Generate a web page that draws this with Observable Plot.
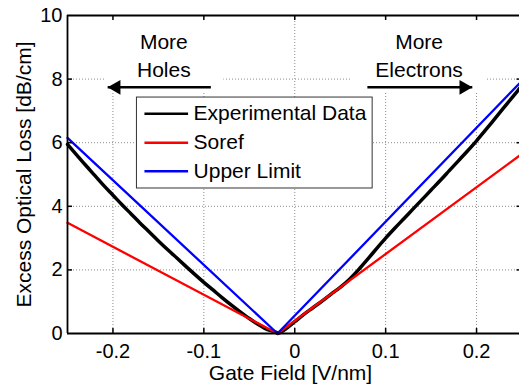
<!DOCTYPE html>
<html>
<head>
<meta charset="utf-8">
<script src="https://cdn.jsdelivr.net/npm/d3@7"></script>
<script src="https://cdn.jsdelivr.net/npm/@observablehq/plot@0.6"></script>
<style>
  html, body { margin: 0; padding: 0; background: #fff; overflow: hidden; }
  #chart { width: 519px; height: 385px; }
</style>
</head>
<body>
<div id="chart"></div>
<script>
// ---- data ----
const expGate = [-0.25,-0.24,-0.23,-0.22,-0.21,-0.20,-0.19,-0.18,-0.17,-0.16,-0.15,-0.14,-0.13,-0.12,-0.11,-0.10,-0.09,-0.08,-0.07,-0.06,-0.05,-0.04,-0.03,-0.02,-0.019,-0.01,0.00,0.01,0.02,0.03,0.04,0.05,0.06,0.07,0.08,0.09,0.10,0.11,0.12,0.13,0.14,0.15,0.16,0.17,0.18,0.19,0.20,0.21,0.22,0.23,0.24,0.25];
const expLoss = [5.95,5.62,5.29,4.97,4.65,4.35,4.05,3.76,3.47,3.19,2.91,2.64,2.38,2.12,1.86,1.61,1.37,1.13,0.90,0.68,0.47,0.28,0.12,0.03,0.00,0.14,0.37,0.60,0.81,1.02,1.24,1.45,1.70,2.00,2.33,2.67,3.00,3.31,3.61,3.91,4.21,4.51,4.81,5.12,5.43,5.74,6.06,6.40,6.75,7.10,7.45,7.80];
const sorefGate = [-0.25, -0.019, 0.25];
const sorefLoss = [3.48, 0, 5.65];
const upperGate = [-0.25, -0.019, 0.25];
const upperLoss = [6.15, 0, 7.95];

const seriesNames = ["Experimental Data", "Soref", "Upper Limit"];
const seriesColors = ["#000000", "#ff0000", "#0000ff"];

const xTicks = [-0.2, -0.1, 0, 0.1, 0.2];
const xTickLabels = ["-0.2", "-0.1", "0", "0.1", "0.2"];
const yTicks = [0, 2, 4, 6, 8, 10];
const yTickLabels = ["0", "2", "4", "6", "8", "10"];

const xLabel = "Gate Field [V/nm]";
const yLabel = "Excess Optical Loss [dB/cm]";
const annotations = ["More\nHoles", "More\nElectrons"];

// ---- tables built from the arrays ----
const exp = expGate.map((g, i) => ({g, v: expLoss[i]}));
const soref = sorefGate.map((g, i) => ({g, v: sorefLoss[i]}));
const upper = upperGate.map((g, i) => ({g, v: upperLoss[i]}));

// layout (data units)
const legendBox = {x1: -0.1736, x2: 0.0857, y1: 4.56, y2: 7.42};
const legendRowsY = [6.91, 6.0, 5.10];
const legendLineX = [-0.1648, -0.1168];
const legendTextX = -0.1113;
const legendItems = seriesNames.map((name, i) => ({name, color: seriesColors[i], y: legendRowsY[i]}));

const maskBoxes = [
  {x1: -0.2077, x2: -0.078, y1: 7.55, y2: 10},
  {x1: 0.0615, x2: 0.21, y1: 7.55, y2: 10}
];
const annot = [
  {text: annotations[0], x: -0.144, y: 8.08},
  {text: annotations[1], x: 0.1368, y: 8.08}
];
const arrowLeft = [{x1: -0.0923, x2: -0.2058, y: 7.74}];
const arrowRight = [{x1: 0.0799, x2: 0.1953, y: 7.74}];

const font = "'Liberation Sans', Arial, Helvetica, sans-serif";
const grid = {stroke: "#8c8c8c", strokeDasharray: "1,2", strokeWidth: 1};
const inner = yTicks.filter(d => d > 0 && d < 10);

const chart = Plot.plot({
  width: 519,
  height: 385,
  marginLeft: 67,
  marginRight: 0,
  marginTop: 15,
  marginBottom: 52,
  style: {fontFamily: font, fontSize: "20px", color: "#000", background: "#fff", overflow: "hidden"},
  x: {domain: [-0.25, 0.25], range: [67, 521.5]},
  y: {domain: [0, 10]},
  marks: [
    // grid
    Plot.ruleX(xTicks, {x: d => d, ...grid}),
    Plot.ruleY(inner, {y: d => d, ...grid}),
    // white backgrounds behind annotations
    Plot.rect(maskBoxes, {x1: "x1", x2: "x2", y1: "y1", y2: "y2", fill: "white"}),
    // data
    Plot.line(exp, {x: "g", y: "v", stroke: seriesColors[0], strokeWidth: 3.5, curve: "monotone-x"}),
    Plot.line(soref, {x: "g", y: "v", stroke: seriesColors[1], strokeWidth: 2.3}),
    Plot.line(upper, {x: "g", y: "v", stroke: seriesColors[2], strokeWidth: 2.3}),
    // legend
    Plot.rect([legendBox], {x1: "x1", x2: "x2", y1: "y1", y2: "y2", fill: "white", stroke: "#333", strokeWidth: 1}),
    Plot.ruleY(legendItems, {y: "y", x1: legendLineX[0], x2: legendLineX[1], stroke: "color", strokeWidth: 2.5}),
    Plot.text(legendItems, {x: legendTextX, y: "y", text: "name", textAnchor: "start", fontSize: 21, fill: "#000"}),
    // frame
    Plot.ruleY([0, 10], {y: d => d, stroke: "#000", strokeWidth: 1.8}),
    Plot.ruleX([-0.25, 0.25], {x: d => d, stroke: "#000", strokeWidth: 1.8}),
    // inward ticks
    Plot.ruleX(xTicks, {x: d => d, y1: 0, y2: 0, insetBottom: 5, stroke: "#000", strokeWidth: 1.5}),
    Plot.ruleX(xTicks, {x: d => d, y1: 10, y2: 10, insetTop: 5, stroke: "#000", strokeWidth: 1.5}),
    Plot.ruleY(inner, {y: d => d, x1: -0.25, x2: -0.25, insetRight: -5, stroke: "#000", strokeWidth: 1.5}),
    Plot.ruleY(inner, {y: d => d, x1: 0.25, x2: 0.25, insetLeft: -5, stroke: "#000", strokeWidth: 1.5}),
    // axes labels
    Plot.axisX(xTicks, {tickSize: 0, tickPadding: 10, tickFormat: d => xTickLabels[xTicks.indexOf(d)], fontSize: 20, label: null}),
    Plot.axisY(yTicks, {tickSize: 0, tickPadding: 5, tickFormat: d => yTickLabels[yTicks.indexOf(d)], fontSize: 20, label: null}),
    Plot.text([xLabel], {frameAnchor: "bottom", text: d => d, dy: 46, dx: -3, lineAnchor: "bottom", fontSize: 21, fill: "#000"}),
    Plot.text([yLabel], {frameAnchor: "left", text: d => d, rotate: -90, dx: -37, textAnchor: "middle", lineAnchor: "bottom", fontSize: 21, fill: "#000"}),
    // annotations
    Plot.text(annot, {x: "x", y: "y", text: "text", lineAnchor: "bottom", lineHeight: 1.3, fontSize: 21, fill: "#000"}),
    Plot.link(arrowLeft, {x1: "x1", x2: "x2", y1: "y", y2: "y", stroke: "#000", strokeWidth: 2.5}),
    Plot.link(arrowRight, {x1: "x1", x2: "x2", y1: "y", y2: "y", stroke: "#000", strokeWidth: 2.5}),
    Plot.dot(arrowLeft, {x: "x2", y: "y", symbol: "triangle", r: 5.5, rotate: -90, dx: 8.5, fill: "#000", stroke: "none"}),
    Plot.dot(arrowRight, {x: "x2", y: "y", symbol: "triangle", r: 5.5, rotate: 90, dx: -8.5, fill: "#000", stroke: "none"})
  ]
});
document.getElementById("chart").appendChild(chart);
</script>
</body>
</html>
